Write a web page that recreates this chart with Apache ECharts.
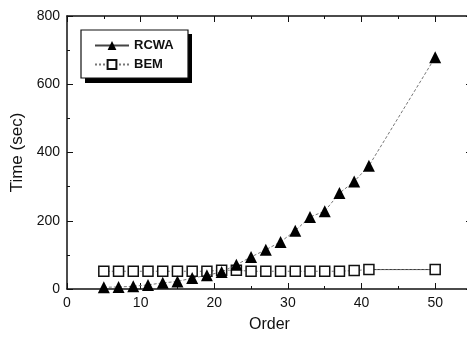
<!DOCTYPE html>
<html><head><meta charset="utf-8">
<script src="https://cdn.jsdelivr.net/npm/echarts@6/dist/echarts.min.js"></script>
<style>html,body{margin:0;padding:0;background:#fff}#c{width:467px;height:338px}</style>
</head><body><div id="c"></div>
<script>
const orders = [5,7,9,11,13,15,17,19,21,23,25,27,29,31,33,35,37,39,41,50];
const rcwa   = [5,6,8,12,18,22,32,40,50,71,94,115,138,171,211,228,281,315,361,679];
const bem    = [52,52,52,52,52,52,52,52,55,55,52,52,52,52,52,52,52,54,57,57];
const bemTailOrders = [41,50];
const bemTail = [57,57];
const xTicks = [0,10,20,30,40,50];
const yTicks = [0,200,400,600,800];

const font = 'Liberation Sans, Arial, sans-serif';
const chart = echarts.init(document.getElementById('c'), null, {renderer:'canvas'});
const axisCommon = {
  axisLine:{show:true,onZero:false,lineStyle:{color:'#111',width:1.5}},
  axisTick:{show:true,inside:true,length:6,lineStyle:{color:'#111',width:1}},
  minorTick:{show:true,splitNumber:2,length:3,lineStyle:{color:'#111',width:1}},
  splitLine:{show:false}
};
chart.setOption({
  animation:false,
  backgroundColor:'#fff',
  grid:{left:67,top:16,width:405,bottom:49,containLabel:false,outerBoundsMode:'none'},
  graphic:[
    {type:'rect',shape:{x:85,y:34,width:107,height:49},style:{fill:'#000'},z:1},
    {type:'rect',shape:{x:81,y:30,width:107,height:48},style:{fill:'#fff',stroke:'#111',lineWidth:1.2},z:2}
  ],
  legend:{
    orient:'vertical',left:89,top:34,itemGap:6,itemWidth:34,itemHeight:11,
    z:10,
    textStyle:{fontFamily:font,fontSize:13,fontWeight:'bold',color:'#111'},
    data:[{name:'RCWA',lineStyle:{type:'solid',color:'#444'}},{name:'BEM'}]
  },
  xAxis:[
    Object.assign({type:'value',min:0,max:55,interval:10,position:'bottom',
      name:'Order',nameLocation:'middle',nameGap:28,
      nameTextStyle:{fontFamily:font,fontSize:16,color:'#111'},
      axisLabel:{showMaxLabel:false,fontFamily:font,fontSize:14,color:'#111',margin:7,
        formatter:v=>xTicks.includes(v)?String(v):''}},axisCommon),
    Object.assign({type:'value',min:0,max:55,interval:10,position:'top',axisLabel:{show:false}},axisCommon)
  ],
  yAxis:[
    Object.assign({type:'value',min:0,max:800,interval:200,position:'left',
      name:'Time (sec)',nameLocation:'middle',nameGap:38,
      nameTextStyle:{fontFamily:font,fontSize:17,color:'#111'},
      axisLabel:{fontFamily:font,fontSize:14,color:'#111',margin:7,
        formatter:v=>yTicks.includes(v)?String(v):''}},axisCommon),
    Object.assign({type:'value',min:0,max:800,interval:200,position:'right',axisLabel:{show:false}},axisCommon)
  ],
  series:[
    {name:'BEM',type:'line',data:orders.map((o,i)=>[o,bem[i]]),
      symbol:'rect',symbolSize:10,
      itemStyle:{color:'#fff',borderColor:'#111',borderWidth:1.5},
      lineStyle:{color:'#777',width:1,type:[2,2]},z:3},
    {name:'BEM_tail',type:'line',data:bemTailOrders.map((o,i)=>[o,bemTail[i]]),
      symbol:'none',lineStyle:{color:'#333',width:1,type:'solid'},z:2},
    {name:'RCWA',type:'line',data:orders.map((o,i)=>[o,rcwa[i]]),
      symbol:'triangle',symbolSize:12,
      itemStyle:{color:'#000',borderColor:'#000',borderWidth:0},
      lineStyle:{color:'#777',width:1,type:[3,2]},z:4}
  ]
});
</script></body></html>
